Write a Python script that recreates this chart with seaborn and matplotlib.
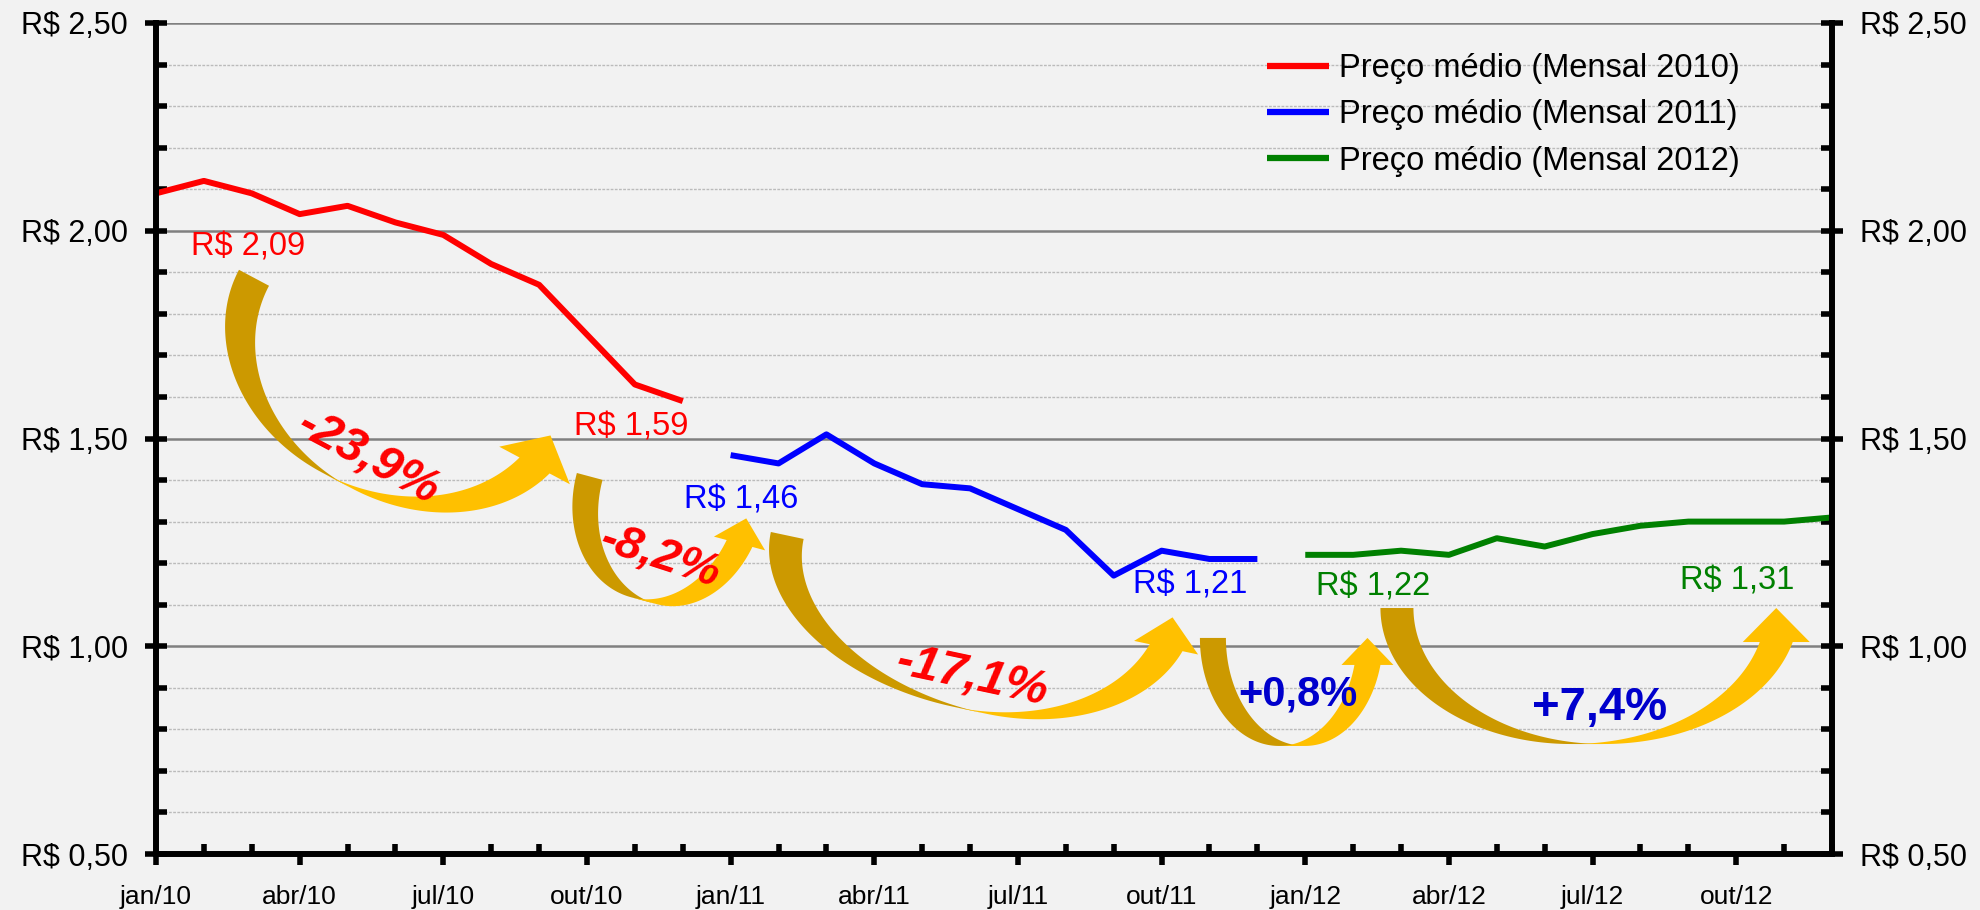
# Preço médio mensal 2010-2012 com setas de variação

import numpy as np
import pandas as pd
import seaborn as sns
import matplotlib.pyplot as plt
from matplotlib.patches import Polygon
from matplotlib.ticker import MultipleLocator, FuncFormatter

plt.rcParams['font.family'] = ['Liberation Sans', 'DejaVu Sans']
plt.rcParams['lines.solid_capstyle'] = 'butt'
plt.rcParams['lines.solid_joinstyle'] = 'round'

meses = ['jan', 'fev', 'mar', 'abr', 'mai', 'jun', 'jul', 'ago', 'set', 'out', 'nov', 'dez']
anos = ['10', '11', '12']
preco_2010 = [2.09, 2.12, 2.09, 2.04, 2.06, 2.02, 1.99, 1.92, 1.87, 1.75, 1.63, 1.59]
preco_2011 = [1.46, 1.44, 1.51, 1.44, 1.39, 1.38, 1.33, 1.28, 1.17, 1.23, 1.21, 1.21]
preco_2012 = [1.22, 1.22, 1.23, 1.22, 1.26, 1.24, 1.27, 1.29, 1.30, 1.30, 1.30, 1.31]
series = ['Preço médio (Mensal 2010)', 'Preço médio (Mensal 2011)', 'Preço médio (Mensal 2012)']
cores = ['#FF0000', '#0000FF', '#008000']

rotulos_valor = ['R$ 2,09', 'R$ 1,59', 'R$ 1,46', 'R$ 1,21', 'R$ 1,22', 'R$ 1,31']
variacoes = ['-23,9%', '-8,2%', '-17,1%', '+0,8%', '+7,4%']

# posições dos textos (em meses / R$)
valor_x = [1.92, 9.93, 12.21, 21.59, 25.41, 33.03]
valor_y = [1.961, 1.528, 1.352, 1.147, 1.143, 1.157]
valor_cor = ['#FF0000', '#FF0000', '#0000FF', '#0000FF', '#008000', '#008000']
var_x = [4.43, 10.54, 17.04, 23.84, 30.15]
var_y = [1.453, 1.215, 0.926, 0.883, 0.851]
var_rot = [-28, -18, -12, 0, 0]
var_cor = ['#FF0000', '#FF0000', '#FF0000', '#0000CC', '#0000CC']
var_estilo = ['italic', 'italic', 'italic', 'normal', 'normal']
var_tam = [35, 34, 35, 30, 34]

# setas: início (mês, R$) e formato em pixels
setas = [
    dict(x0=1.733, y0=1.906, rot=28, aL=168, aR=173, b=140, d=34, hl=34, hw=40),
    dict(x0=8.789, y0=1.417, rot=15, aL=84.5, aR=80, b=106, d=26.6, hl=26, hw=26.5),
    dict(x0=12.84, y0=1.275, rot=12, aL=215, aR=184, b=133, d=33.5, hl=31, hw=32.7),
    dict(x0=21.80, y0=1.020, rot=0, aL=79, aR=78, b=108, d=26, hl=27, hw=26),
    dict(x0=25.57, y0=1.092, rot=0, aL=190.5, aR=195, b=136, d=33, hl=34, hw=33.5),
]

frames = []
for k, (nome, vals) in enumerate(zip(series, [preco_2010, preco_2011, preco_2012])):
    frames.append(pd.DataFrame({'mes': np.arange(12) + 12 * k, 'preco': vals, 'serie': nome}))
df = pd.concat(frames, ignore_index=True)

fig = plt.figure(figsize=(19.81, 9.10), dpi=100, facecolor='#F2F2F2')
ax = fig.add_axes([156 / 1981, 56 / 910, 1676 / 1981, 831 / 910])
ax.set_facecolor('#F2F2F2')

sns.lineplot(data=df, x='mes', y='preco', hue='serie', palette=dict(zip(series, cores)),
             linewidth=4.3, ax=ax, zorder=2)

ax.set_xlim(0, 35)
ax.set_ylim(0.5, 2.5)
ax.set_xlabel('')
ax.set_ylabel('')

ax.set_xticks(range(0, 36, 3))
ax.set_xticklabels([meses[m % 12] + '/' + anos[m // 12] for m in range(0, 36, 3)])
ax.xaxis.set_minor_locator(MultipleLocator(1))
ax.yaxis.set_major_locator(MultipleLocator(0.5))
ax.yaxis.set_minor_locator(MultipleLocator(0.1))
ax.yaxis.set_major_formatter(FuncFormatter(lambda v, p: f'R$ {v:.2f}'.replace('.', ',')))

ax.tick_params(axis='y', which='major', direction='inout', length=16, width=4,
               left=True, right=True, labelleft=True, labelright=True, labelsize=22, pad=12)
ax.tick_params(axis='y', which='minor', direction='in', length=8, width=4, left=True, right=True)
ax.tick_params(axis='x', which='major', direction='out', length=8, width=4, labelsize=19, pad=14)
ax.tick_params(axis='x', which='minor', direction='in', length=7, width=4, bottom=True)

ax.grid(axis='y', which='major', color='#808080', lw=1.8)
ax.grid(axis='y', which='minor', color='#BBBBBB', lw=1, ls=(0, (2, 1)))
ax.set_axisbelow(True)

ax.spines['top'].set_visible(False)
for s in ['left', 'right', 'bottom']:
    ax.spines[s].set_linewidth(4.3)
    ax.spines[s].set_color('black')

h, l = ax.get_legend_handles_labels()
leg = ax.legend(h, l, loc='upper left', bbox_to_anchor=(1267 / 1981, 1 - 53 / 910),
                bbox_transform=fig.transFigure, frameon=False, fontsize=23.5,
                handlelength=1.9, handletextpad=0.3, labelspacing=0.47,
                borderpad=0, borderaxespad=0)
for line in leg.get_lines():
    line.set_linewidth(4.5)


def seta_curva(ax, x0, y0, rot, aL, aR, b, d, hl, hw):
    px0, py0 = ax.transData.transform((x0, y0))
    t1 = np.linspace(np.pi, np.pi / 2, 80)
    tras = np.vstack([
        np.column_stack([aL + aL * np.cos(t1), b * np.sin(t1)]),
        np.column_stack([aL + d + aL * np.cos(t1[::-1]), b * np.sin(t1[::-1])]),
    ])
    th = np.arcsin(hl / b)
    t2 = np.linspace(np.pi / 2, th, 80)
    xc = aL + d / 2 + aR * np.cos(th)
    frente = np.vstack([
        np.column_stack([aL + aR * np.cos(t2), b * np.sin(t2)]),
        [[xc - hw, hl], [xc, 0], [xc + hw, hl]],
        np.column_stack([aL + d + aR * np.cos(t2[::-1]), b * np.sin(t2[::-1])]),
    ])
    c, s = np.cos(np.radians(rot)), np.sin(np.radians(rot))
    inv = ax.transData.inverted()
    for pts, cor in ((tras, '#CC9900'), (frente, '#FFC000')):
        X = px0 + c * pts[:, 0] - s * pts[:, 1]
        Y = py0 - (s * pts[:, 0] + c * pts[:, 1])
        ax.add_patch(Polygon(inv.transform(np.column_stack([X, Y])), closed=True,
                             fc=cor, ec='none', zorder=3))


for p in setas:
    seta_curva(ax, **p)

for txt, x, y, cor in zip(rotulos_valor, valor_x, valor_y, valor_cor):
    ax.text(x, y, txt, color=cor, fontsize=23.5, ha='center', va='center', zorder=5)

for txt, x, y, r, cor, est, tam in zip(variacoes, var_x, var_y, var_rot, var_cor, var_estilo, var_tam):
    ax.text(x, y, txt, color=cor, fontsize=tam, fontweight='bold', fontstyle=est,
            rotation=r, rotation_mode='anchor', ha='center', va='center', zorder=5)

plt.savefig('out.png', dpi=100, facecolor='#F2F2F2')
